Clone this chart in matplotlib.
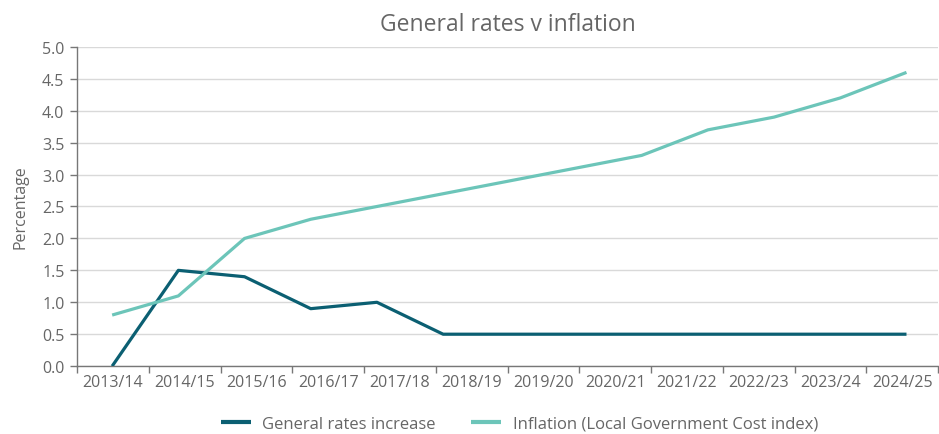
import matplotlib.pyplot as plt
import numpy as np

# Financial years on the category axis
years = ["2013/14", "2014/15", "2015/16", "2016/17", "2017/18", "2018/19",
         "2019/20", "2020/21", "2021/22", "2022/23", "2023/24", "2024/25"]

# Series values (13 points each, spread across the 12 categories)
rates_increase = [0.0, 1.5, 1.4, 0.9, 1.0, 0.5, 0.5, 0.5, 0.5, 0.5, 0.5, 0.5, 0.5]
inflation = [0.8, 1.1, 2.0, 2.3, 2.5, 2.7, 2.9, 3.1, 3.3, 3.7, 3.9, 4.2, 4.6]

dark = "#0b5f72"
light = "#6cc5b9"
text_col = "#666666"

plt.rcParams["font.family"] = ["Open Sans", "DejaVu Sans"]

fig = plt.figure(figsize=(9.39, 4.35), dpi=100)
ax = fig.add_axes([0.082, 0.156, 0.917, 0.734])

xs = np.linspace(0.49, 11.56, len(inflation))
ax.plot(xs, rates_increase, color=dark, lw=2.3, solid_capstyle="butt",
        label="General rates increase", zorder=3)
ax.plot(xs, inflation, color=light, lw=2.3, solid_capstyle="butt",
        label="Inflation (Local Government Cost index)", zorder=3)

ax.set_xlim(0, len(years))
ax.set_ylim(0, 5.0)
ax.set_yticks(np.arange(0, 5.01, 0.5))
ax.set_yticklabels([f"{v:.1f}" for v in np.arange(0, 5.01, 0.5)])

# ticks at category boundaries, labels at centres
ax.set_xticks(np.arange(0, len(years) + 1))
ax.set_xticklabels([])
ax.set_xticks(np.arange(len(years)) + 0.5, minor=True)
ax.set_xticklabels(years, minor=True)
ax.tick_params(axis="x", which="major", length=5, color="#777777", width=1)
ax.tick_params(axis="x", which="minor", length=0, pad=6, labelsize=11.5, labelcolor=text_col)
ax.tick_params(axis="y", length=5, color="#777777", width=1, labelsize=11.5,
               labelcolor=text_col, pad=4)

ax.grid(axis="y", color="#d9d9d9", lw=1)
ax.set_axisbelow(True)
for s in ["top", "right"]:
    ax.spines[s].set_visible(False)
for s in ["left", "bottom"]:
    ax.spines[s].set_color("#777777")
    ax.spines[s].set_linewidth(1)

ax.set_ylabel("Percentage", color=text_col, fontsize=11.5, labelpad=10)
ax.set_title("General rates v inflation", color=text_col, fontsize=16.5, pad=12)

handles, labels = ax.get_legend_handles_labels()
leg = fig.legend(handles, labels, loc="center", bbox_to_anchor=(0.553, 0.024), ncol=2,
                 frameon=False, fontsize=12, handlelength=1.8, columnspacing=2.1,
                 handletextpad=0.7, borderpad=0)
for t in leg.get_texts():
    t.set_color(text_col)
for h in leg.get_lines():
    h.set_linewidth(3)

fig.savefig("out.png", dpi=100)
